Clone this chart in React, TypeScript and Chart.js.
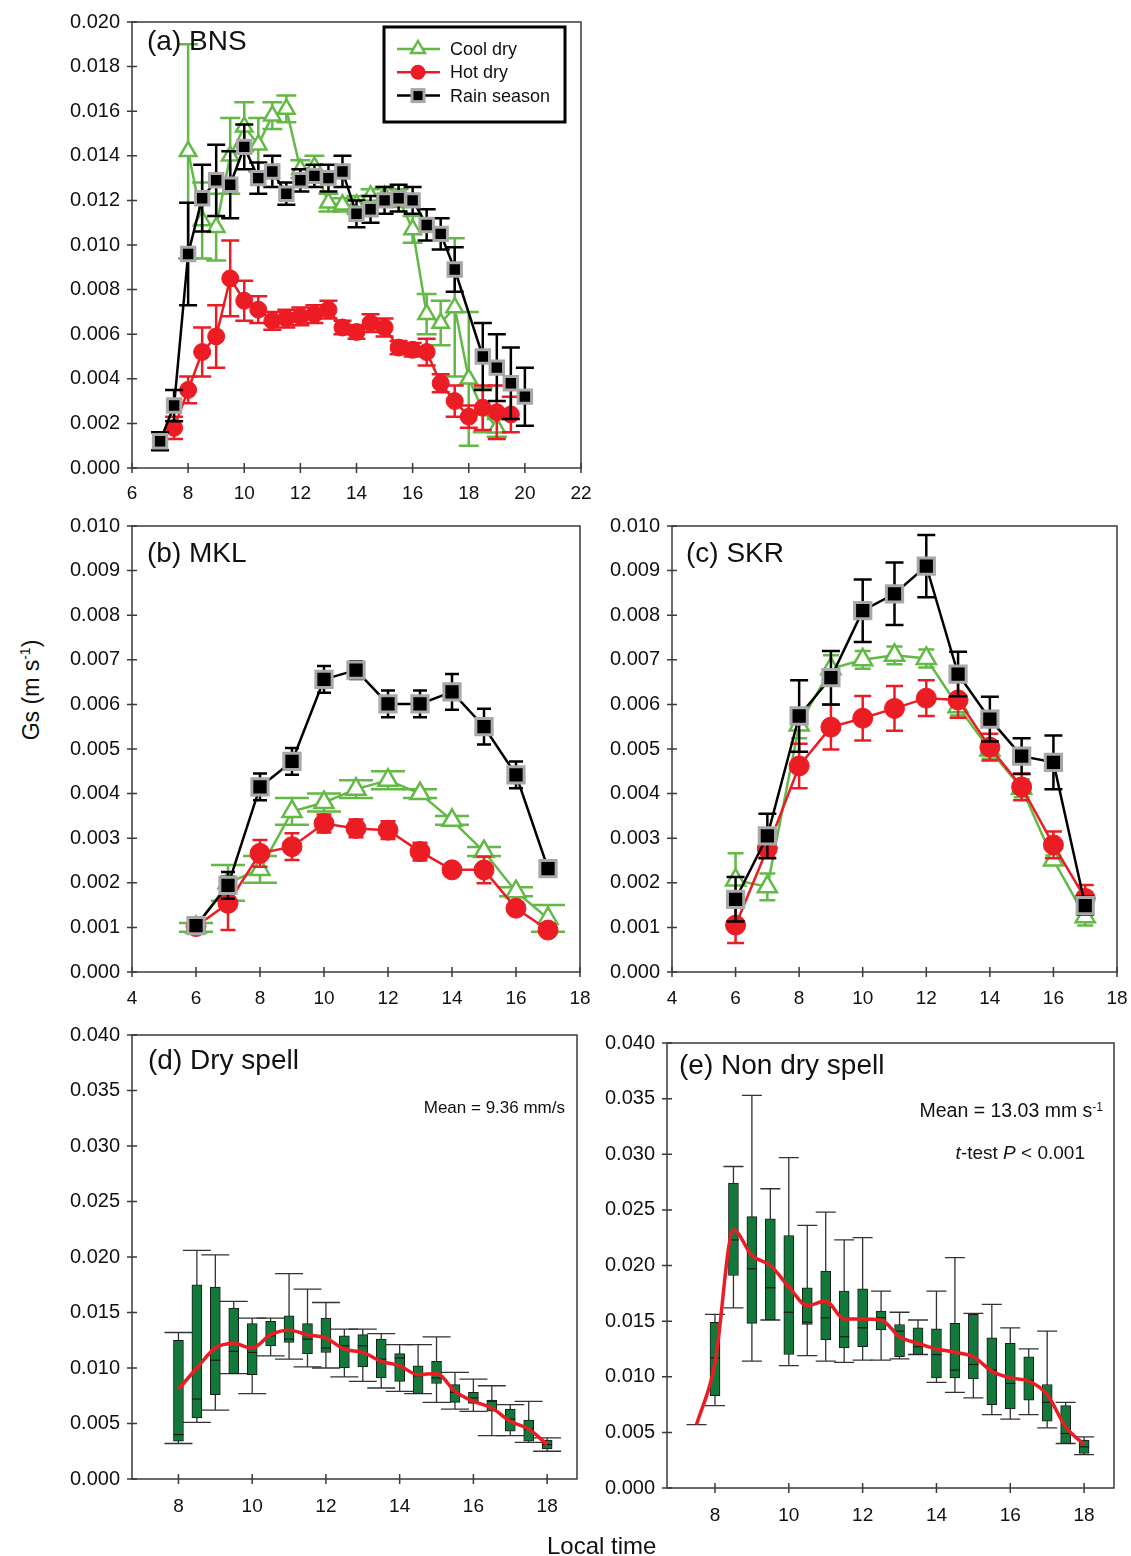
import React, { useEffect, useRef } from 'react';
import { Chart, registerables } from 'chart.js';

Chart.register(...registerables);

// ---------------- DATA ----------------
// Panel (a) BNS
const A_RAIN_X = [7, 7.5, 8, 8.5, 9, 9.5, 10, 10.5, 11, 11.5, 12, 12.5, 13, 13.5, 14, 14.5, 15, 15.5, 16, 16.5, 17, 17.5, 18.5, 19, 19.5, 20];
const A_RAIN_Y = [0.0012, 0.0028, 0.0096, 0.0121, 0.0129, 0.0127, 0.0144, 0.0130, 0.0133, 0.0123, 0.0129, 0.0131, 0.0130, 0.0133, 0.0114, 0.0116, 0.0120, 0.0121, 0.0120, 0.0109, 0.0105, 0.0089, 0.0050, 0.0045, 0.0038, 0.0032];
const A_RAIN_E = [0.0004, 0.0007, 0.0023, 0.0015, 0.0016, 0.0015, 0.0010, 0.0007, 0.0007, 0.0005, 0.0005, 0.0005, 0.0006, 0.0007, 0.0006, 0.0006, 0.0006, 0.0006, 0.0006, 0.0007, 0.0007, 0.0010, 0.0015, 0.0015, 0.0016, 0.0013];

const A_COOL_X = [8, 8.5, 9, 9.5, 10, 10.5, 11, 11.5, 12, 12.5, 13, 13.5, 14, 14.5, 15, 15.5, 16, 16.5, 17, 17.5, 18, 18.5, 19];
const A_COOL_Y = [0.0142, 0.0111, 0.0108, 0.0140, 0.0153, 0.0145, 0.0158, 0.0161, 0.0134, 0.0135, 0.0119, 0.0118, 0.0118, 0.0122, 0.0122, 0.0121, 0.0107, 0.0069, 0.0065, 0.0072, 0.0040, 0.0026, 0.0018];
const A_COOL_E = [0.0048, 0.0017, 0.0015, 0.0017, 0.0011, 0.0012, 0.0006, 0.0006, 0.0004, 0.0005, 0.0004, 0.0003, 0.0004, 0.0003, 0.0004, 0.0004, 0.0006, 0.0009, 0.0010, 0.0031, 0.0030, 0.0010, 0.0004];

const A_HOT_X = [7.5, 8, 8.5, 9, 9.5, 10, 10.5, 11, 11.5, 12, 12.5, 13, 13.5, 14, 14.5, 15, 15.5, 16, 16.5, 17, 17.5, 18, 18.5, 19, 19.5];
const A_HOT_Y = [0.0018, 0.0035, 0.0052, 0.0059, 0.0085, 0.0075, 0.0071, 0.0066, 0.0067, 0.0068, 0.0069, 0.0071, 0.0063, 0.0061, 0.0065, 0.0063, 0.0054, 0.0053, 0.0052, 0.0038, 0.0030, 0.0023, 0.0027, 0.0025, 0.0024];
const A_HOT_E = [0.0005, 0.0006, 0.0011, 0.0014, 0.0017, 0.0009, 0.0006, 0.0004, 0.0004, 0.0004, 0.0004, 0.0004, 0.0003, 0.0003, 0.0004, 0.0004, 0.0003, 0.0003, 0.0006, 0.0004, 0.0007, 0.0005, 0.0010, 0.0012, 0.0008];

// Panels (b) MKL and (c) SKR
const HOURS_BC = [6, 7, 8, 9, 10, 11, 12, 13, 14, 15, 16, 17];
const B_COOL_Y = [0.0010, 0.0020, 0.0023, 0.0036, 0.0038, 0.0041, 0.0043, 0.0040, 0.0034, 0.0027, 0.0018, 0.0012];
const B_COOL_E = [0.0001, 0.0004, 0.0003, 0.0003, 0.0002, 0.0002, 0.0002, 0.0001, 0.0001, 0.0001, 0.0001, 0.0003];
const B_HOT_Y = [0.00102, 0.00154, 0.00266, 0.00281, 0.00333, 0.00322, 0.00318, 0.0027, 0.00229, 0.00229, 0.00143, 0.00094];
const B_HOT_E = [0.0001, 0.0006, 0.0003, 0.0003, 0.0002, 0.0002, 0.0002, 0.0002, 0.0001, 0.0003, 0.0001, 0.0001];
const B_RAIN_Y = [0.00104, 0.00194, 0.00415, 0.00472, 0.00656, 0.00677, 0.00601, 0.00601, 0.00628, 0.0055, 0.00442, 0.00232];
const B_RAIN_E = [0.0001, 0.0003, 0.0003, 0.0003, 0.0003, 0.0002, 0.0003, 0.0003, 0.0004, 0.0004, 0.0003, 0];

const C_COOL_Y = [0.00206, 0.00191, 0.00554, 0.0068, 0.0070, 0.0071, 0.00703, 0.00595, 0.00498, 0.00412, 0.00251, 0.00124];
const C_COOL_E = [0.0006, 0.0003, 0.0003, 0.0003, 0.0002, 0.0002, 0.0002, 0.0002, 0.0002, 0.0002, 0.0001, 0.0002];
const C_HOT_Y = [0.00105, 0.00277, 0.00462, 0.00549, 0.00569, 0.00591, 0.00614, 0.0061, 0.00504, 0.00415, 0.00285, 0.00165];
const C_HOT_E = [0.0004, 0.0002, 0.0005, 0.0005, 0.0005, 0.0005, 0.0004, 0.0004, 0.0003, 0.0003, 0.0003, 0.0003];
const C_RAIN_Y = [0.00163, 0.00305, 0.00574, 0.0066, 0.0081, 0.00848, 0.0091, 0.00668, 0.00567, 0.00484, 0.0047, 0.00149];
const C_RAIN_E = [0.0005, 0.0005, 0.0008, 0.0006, 0.0007, 0.0007, 0.0007, 0.0005, 0.0005, 0.0004, 0.0006, 0.0002];

// Panel (d) Dry spell (box plots + mean line)
const D_X = [8, 8.5, 9, 9.5, 10, 10.5, 11, 11.5, 12, 12.5, 13, 13.5, 14, 14.5, 15, 15.5, 16, 16.5, 17, 17.5, 18];
const D_WHI = [0.0132, 0.0206, 0.0202, 0.0160, 0.0145, 0.0145, 0.0185, 0.0171, 0.0159, 0.0135, 0.0135, 0.0131, 0.0121, 0.0121, 0.0128, 0.0096, 0.0090, 0.0084, 0.0067, 0.0070, 0.0037];
const D_Q3 = [0.0125, 0.0175, 0.0173, 0.0154, 0.0140, 0.0142, 0.0147, 0.0140, 0.0145, 0.0129, 0.0130, 0.0126, 0.0113, 0.0102, 0.0106, 0.0085, 0.0078, 0.0071, 0.0063, 0.0053, 0.0035];
const D_MED = [0.0040, 0.0072, 0.0107, 0.0115, 0.0114, 0.0129, 0.0126, 0.0126, 0.0118, 0.0120, 0.0120, 0.0108, 0.0109, 0.0093, 0.0091, 0.0078, 0.0073, 0.0070, 0.0054, 0.0045, 0.0031];
const D_Q1 = [0.0034, 0.0055, 0.0076, 0.0095, 0.0094, 0.0120, 0.0123, 0.0113, 0.0114, 0.0100, 0.0101, 0.0091, 0.0088, 0.0077, 0.0086, 0.0069, 0.0068, 0.0061, 0.0043, 0.0034, 0.0027];
const D_WLO = [0.0032, 0.0051, 0.0062, 0.0095, 0.0077, 0.0111, 0.0108, 0.0101, 0.0100, 0.0092, 0.0088, 0.0082, 0.0079, 0.0077, 0.0069, 0.0063, 0.0061, 0.0039, 0.0039, 0.0033, 0.0025];
const D_MEAN = [0.0081, 0.0100, 0.0118, 0.0122, 0.0118, 0.0130, 0.0134, 0.0130, 0.0127, 0.0117, 0.0114, 0.0106, 0.0102, 0.0094, 0.0095, 0.0079, 0.0070, 0.0064, 0.0052, 0.0045, 0.0031];

// Panel (e) Non dry spell
const E_X = [7.5, 8, 8.5, 9, 9.5, 10, 10.5, 11, 11.5, 12, 12.5, 13, 13.5, 14, 14.5, 15, 15.5, 16, 16.5, 17, 17.5, 18];
const E_WHI = [0.0057, 0.0156, 0.0289, 0.0353, 0.0269, 0.0297, 0.0236, 0.0248, 0.0223, 0.0225, 0.0177, 0.0158, 0.0151, 0.0177, 0.0207, 0.0157, 0.0165, 0.0144, 0.0125, 0.0141, 0.0077, 0.0046];
const E_Q3 = [0.0057, 0.0149, 0.0274, 0.0244, 0.0242, 0.0227, 0.0180, 0.0195, 0.0177, 0.0179, 0.0159, 0.0147, 0.0144, 0.0143, 0.0148, 0.0156, 0.0135, 0.0130, 0.0118, 0.0093, 0.0074, 0.0043];
const E_MED = [0.0057, 0.0117, 0.0223, 0.0197, 0.0180, 0.0158, 0.0149, 0.0153, 0.0136, 0.0144, 0.0153, 0.0141, 0.0127, 0.0120, 0.0106, 0.0111, 0.0106, 0.0094, 0.0097, 0.0077, 0.0049, 0.0037];
const E_Q1 = [0.0057, 0.0083, 0.0191, 0.0148, 0.0151, 0.0120, 0.0147, 0.0133, 0.0126, 0.0127, 0.0142, 0.0118, 0.0120, 0.0099, 0.0099, 0.0098, 0.0075, 0.0071, 0.0079, 0.0060, 0.0040, 0.0031];
const E_WLO = [0.0057, 0.0074, 0.0162, 0.0114, 0.0151, 0.0110, 0.0119, 0.0114, 0.0113, 0.0115, 0.0115, 0.0116, 0.0120, 0.0095, 0.0086, 0.0081, 0.0066, 0.0062, 0.0066, 0.0054, 0.0040, 0.0030];
const E_MEAN = [0.0057, 0.0112, 0.0232, 0.0209, 0.0200, 0.0181, 0.0164, 0.0168, 0.0152, 0.0152, 0.0151, 0.0136, 0.0130, 0.0125, 0.0122, 0.0118, 0.0105, 0.0099, 0.0096, 0.0084, 0.0055, 0.0039];

// Tick labels
const X_TICKS_A = [6, 8, 10, 12, 14, 16, 18, 20, 22];
const X_TICKS_BC = [4, 6, 8, 10, 12, 14, 16, 18];
const X_TICKS_DE = [8, 10, 12, 14, 16, 18];
const Y_TICKS_A = [0, 0.002, 0.004, 0.006, 0.008, 0.010, 0.012, 0.014, 0.016, 0.018, 0.020];
const Y_TICKS_BC = [0, 0.001, 0.002, 0.003, 0.004, 0.005, 0.006, 0.007, 0.008, 0.009, 0.010];
const Y_TICKS_DE = [0, 0.005, 0.010, 0.015, 0.020, 0.025, 0.030, 0.035, 0.040];

const LEGEND_LABELS = ['Cool dry', 'Hot dry', 'Rain season'];

// ---------------- STYLE / LAYOUT ----------------
const FONT = "'Liberation Sans', Arial, sans-serif";
const GREEN = '#63b946';
const RED = '#ec1c24';
const BOXGREEN = '#13793b';
const SQUARE_EDGE = '#a8a8a8';
const PT = 32, PR = 40, XH = 50, YW = 82;

type Area = { l: number; t: number; r: number; b: number };
const AREA_A: Area = { l: 132, t: 22, r: 581, b: 468 };
const AREA_B: Area = { l: 132, t: 526, r: 580, b: 972 };
const AREA_C: Area = { l: 672, t: 526, r: 1117, b: 972 };
const AREA_D: Area = { l: 132, t: 1035, r: 577, b: 1479 };
const AREA_E: Area = { l: 667, t: 1043, r: 1114, b: 1488 };

// ---------------- PLUGINS ----------------
const framePlugin = {
  id: 'frame',
  afterDatasetsDraw(chart: any) {
    const { ctx, chartArea: ca, scales } = chart;
    ctx.save();
    ctx.strokeStyle = '#3a3a3a';
    ctx.lineWidth = 1.5;
    ctx.strokeRect(ca.left, ca.top, ca.right - ca.left, ca.bottom - ca.top);
    ctx.beginPath();
    scales.y.ticks.forEach((t: any) => {
      const py = scales.y.getPixelForValue(t.value);
      ctx.moveTo(ca.left - 5, py);
      ctx.lineTo(ca.left + 5, py);
    });
    scales.x.ticks.forEach((t: any) => {
      const px = scales.x.getPixelForValue(t.value);
      ctx.moveTo(px, ca.bottom - 5);
      ctx.lineTo(px, ca.bottom + 5);
    });
    ctx.stroke();
    ctx.restore();
  },
};

const errorBarPlugin = {
  id: 'errbars',
  beforeDatasetDraw(chart: any, args: any) {
    const ds: any = chart.data.datasets[args.index];
    if (!ds.errors) return;
    const { ctx, scales } = chart;
    ctx.save();
    ctx.strokeStyle = ds.borderColor;
    ctx.lineWidth = 2.5;
    const h = ds.capWidth / 2;
    ds.data.forEach((p: any, i: number) => {
      const e = ds.errors[i];
      if (!e) return;
      const x = scales.x.getPixelForValue(p.x);
      const y1 = scales.y.getPixelForValue(p.y + e);
      const y2 = scales.y.getPixelForValue(Math.max(0, p.y - e));
      ctx.beginPath();
      ctx.moveTo(x, y1); ctx.lineTo(x, y2);
      ctx.moveTo(x - h, y1); ctx.lineTo(x + h, y1);
      ctx.moveTo(x - h, y2); ctx.lineTo(x + h, y2);
      ctx.stroke();
    });
    ctx.restore();
  },
};

const boxPlugin = {
  id: 'boxes',
  beforeDatasetDraw(chart: any, args: any) {
    const ds: any = chart.data.datasets[args.index];
    if (!ds.box) return;
    const b = ds.box;
    const { ctx, scales } = chart;
    ctx.save();
    ctx.strokeStyle = '#333';
    ctx.lineWidth = 1.3;
    b.xs.forEach((xv: number, i: number) => {
      const x = scales.x.getPixelForValue(xv);
      const yHi = scales.y.getPixelForValue(b.hi[i]);
      const yLo = scales.y.getPixelForValue(b.lo[i]);
      const h = b.cap / 2;
      ctx.beginPath();
      ctx.moveTo(x, yHi); ctx.lineTo(x, yLo);
      ctx.moveTo(x - h, yHi); ctx.lineTo(x + h, yHi);
      ctx.moveTo(x - h, yLo); ctx.lineTo(x + h, yLo);
      ctx.stroke();
    });
    ctx.restore();
  },
  afterDatasetDraw(chart: any, args: any) {
    const ds: any = chart.data.datasets[args.index];
    if (!ds.box) return;
    const b = ds.box;
    const { ctx, scales } = chart;
    ctx.save();
    ctx.strokeStyle = '#1a1a1a';
    ctx.lineWidth = 1.2;
    b.xs.forEach((xv: number, i: number) => {
      if (b.q1[i] === b.q3[i]) return;
      const x = scales.x.getPixelForValue(xv);
      const y = scales.y.getPixelForValue(b.med[i]);
      ctx.beginPath();
      ctx.moveTo(x - b.width / 2, y); ctx.lineTo(x + b.width / 2, y);
      ctx.stroke();
    });
    ctx.restore();
  },
};

const legendPlugin = {
  id: 'boxLegend',
  afterDraw(chart: any) {
    const { ctx, chartArea: ca } = chart;
    const x0 = ca.left + 252, y0 = ca.top + 5, w = 181, h = 95;
    ctx.save();
    ctx.fillStyle = '#fff';
    ctx.fillRect(x0, y0, w, h);
    ctx.lineWidth = 3;
    ctx.strokeStyle = '#000';
    ctx.strokeRect(x0, y0, w, h);
    const colors = [GREEN, RED, '#000'];
    LEGEND_LABELS.forEach((label, i) => {
      const cy = y0 + 22 + i * 23.3;
      const mx = x0 + 34;
      ctx.strokeStyle = colors[i];
      ctx.lineWidth = 2.5;
      ctx.beginPath();
      ctx.moveTo(x0 + 13, cy); ctx.lineTo(x0 + 56, cy);
      ctx.stroke();
      if (i === 0) {
        const r = 8;
        ctx.beginPath();
        ctx.moveTo(mx, cy - r);
        ctx.lineTo(mx + r * 0.866, cy + r * 0.5);
        ctx.lineTo(mx - r * 0.866, cy + r * 0.5);
        ctx.closePath();
        ctx.fillStyle = '#fff';
        ctx.fill();
        ctx.stroke();
      } else if (i === 1) {
        ctx.beginPath();
        ctx.arc(mx, cy, 7.5, 0, Math.PI * 2);
        ctx.fillStyle = RED;
        ctx.fill();
      } else {
        ctx.fillStyle = '#000';
        ctx.fillRect(mx - 6, cy - 6, 12, 12);
        ctx.lineWidth = 3;
        ctx.strokeStyle = SQUARE_EDGE;
        ctx.strokeRect(mx - 6, cy - 6, 12, 12);
      }
      ctx.fillStyle = '#111';
      ctx.font = `18px ${FONT}`;
      ctx.textBaseline = 'middle';
      ctx.textAlign = 'left';
      ctx.fillText(label, x0 + 66, cy + 1);
    });
    ctx.restore();
  },
};

// ---------------- HELPERS ----------------
function axes(xmin: number, xmax: number, xticks: number[], ymax: number, yticks: number[], xpad: number) {
  return {
    x: {
      type: 'linear', min: xmin, max: xmax, offset: false,
      grid: { display: false, drawTicks: false },
      border: { display: false },
      afterBuildTicks: (s: any) => { s.ticks = xticks.map((v) => ({ value: v })); },
      afterFit: (s: any) => { s.height = XH; },
      ticks: { font: { family: FONT, size: 19 }, color: '#111', padding: xpad, maxRotation: 0, autoSkip: false, callback: (v: any) => String(v) },
    },
    y: {
      type: 'linear', min: 0, max: ymax,
      grid: { display: false, drawTicks: false },
      border: { display: false },
      afterBuildTicks: (s: any) => { s.ticks = yticks.map((v) => ({ value: v })); },
      afterFit: (s: any) => { s.width = YW; },
      ticks: { font: { family: FONT, size: 20 }, color: '#111', padding: 12, autoSkip: false, callback: (v: any) => Number(v).toFixed(3) },
    },
  };
}

function series(kind: 'cool' | 'hot' | 'rain', label: string, xs: number[], ys: number[], es: number[], big: boolean, cap: number) {
  const base: any = {
    type: 'line', label,
    data: xs.map((x, i) => ({ x, y: ys[i] })),
    errors: es, capWidth: cap, borderWidth: 2.5, clip: false, tension: 0,
  };
  if (kind === 'cool') {
    return { ...base, borderColor: GREEN, pointStyle: 'triangle', pointRadius: big ? 11 : 9.5, pointBackgroundColor: '#fff', pointBorderColor: GREEN, pointBorderWidth: 2.5, order: 2 };
  }
  if (kind === 'hot') {
    return { ...base, borderColor: RED, pointStyle: 'circle', pointRadius: big ? 10 : 8.5, pointBackgroundColor: RED, pointBorderColor: RED, pointBorderWidth: 1, order: 1 };
  }
  return { ...base, borderColor: '#000', pointStyle: 'rect', pointRadius: big ? 11.5 : 9.5, pointBackgroundColor: '#000', pointBorderColor: SQUARE_EDGE, pointBorderWidth: 3, order: 0 };
}

function baseOptions(scales: any) {
  return {
    responsive: false,
    animation: false,
    devicePixelRatio: 1,
    events: [],
    layout: { padding: { top: PT, right: PR, left: 0, bottom: 0 } },
    plugins: { legend: { display: false }, tooltip: { enabled: false } },
    scales,
  };
}

function boxPanel(xs: number[], hi: number[], q3: number[], med: number[], q1: number[], lo: number[], mean: number[], cap: number, xmin: number, xmax: number) {
  const width = 10;
  const boxData = xs.map((x, i) => ({ x, y: [q1[i], q3[i]] })).filter((d) => d.y[0] !== d.y[1]);
  return {
    type: 'bar',
    data: {
      datasets: [
        {
          type: 'line', label: 'Mean', data: xs.map((x, i) => ({ x, y: mean[i] })),
          borderColor: RED, borderWidth: 3.5, pointRadius: 0, cubicInterpolationMode: 'monotone', order: 0, clip: false,
        },
        {
          type: 'bar', label: 'Gs', data: boxData,
          backgroundColor: BOXGREEN, borderColor: '#1a1a1a', borderWidth: 1, borderSkipped: false,
          barThickness: width, order: 1,
          box: { xs, hi, q3, med, q1, lo, cap, width },
        },
      ],
    },
    options: baseOptions(axes(xmin, xmax, X_TICKS_DE, 0.04, Y_TICKS_DE, 16)),
    plugins: [boxPlugin, framePlugin],
  };
}

function ChartBox({ area, build }: { area: Area; build: () => any }) {
  const ref = useRef<HTMLCanvasElement>(null);
  const W = YW + (area.r - area.l) + PR;
  const H = PT + (area.b - area.t) + XH;
  useEffect(() => {
    const chart = new Chart(ref.current as HTMLCanvasElement, build());
    return () => chart.destroy();
  }, []);
  return (
    <canvas
      ref={ref}
      width={W}
      height={H}
      style={{ position: 'absolute', left: area.l - YW, top: area.t - PT, width: W, height: H }}
    />
  );
}

function Txt({ x, y, size, children, align = 'left' }: any) {
  const style: any = {
    position: 'absolute', top: y - 0.49 * size, fontSize: size, lineHeight: `${size}px`,
    fontFamily: FONT, color: '#111', whiteSpace: 'nowrap',
  };
  if (align === 'right') style.right = 1131 - x; else style.left = x;
  return <div style={style}>{children}</div>;
}

// ---------------- BUILDERS ----------------
const buildA = () => ({
  type: 'line',
  data: {
    datasets: [
      series('cool', 'Cool dry', A_COOL_X, A_COOL_Y, A_COOL_E, false, 20),
      series('hot', 'Hot dry', A_HOT_X, A_HOT_Y, A_HOT_E, false, 18),
      series('rain', 'Rain season', A_RAIN_X, A_RAIN_Y, A_RAIN_E, false, 18),
    ],
  },
  options: baseOptions(axes(6, 22, X_TICKS_A, 0.02, Y_TICKS_A, 14)),
  plugins: [errorBarPlugin, framePlugin, legendPlugin],
});

const buildB = () => ({
  type: 'line',
  data: {
    datasets: [
      series('cool', 'Cool dry', HOURS_BC, B_COOL_Y, B_COOL_E, true, 34),
      series('hot', 'Hot dry', HOURS_BC, B_HOT_Y, B_HOT_E, true, 15),
      series('rain', 'Rain season', HOURS_BC, B_RAIN_Y, B_RAIN_E, true, 14),
    ],
  },
  options: baseOptions(axes(4, 18, X_TICKS_BC, 0.01, Y_TICKS_BC, 15)),
  plugins: [errorBarPlugin, framePlugin],
});

const buildC = () => ({
  type: 'line',
  data: {
    datasets: [
      series('cool', 'Cool dry', HOURS_BC, C_COOL_Y, C_COOL_E, true, 16),
      series('hot', 'Hot dry', HOURS_BC, C_HOT_Y, C_HOT_E, true, 17),
      series('rain', 'Rain season', HOURS_BC, C_RAIN_Y, C_RAIN_E, true, 18),
    ],
  },
  options: baseOptions(axes(4, 18, X_TICKS_BC, 0.01, Y_TICKS_BC, 15)),
  plugins: [errorBarPlugin, framePlugin],
});

const buildD = () => boxPanel(D_X, D_WHI, D_Q3, D_MED, D_Q1, D_WLO, D_MEAN, 28, 6.74, 18.81);
const buildE = () => boxPanel(E_X, E_WHI, E_Q3, E_MED, E_Q1, E_WLO, E_MEAN, 20, 6.70, 18.81);

export default function App() {
  return (
    <div style={{ position: 'absolute', left: 0, top: 0, width: 1131, height: 1556, background: '#fff', overflow: 'hidden' }}>
      <ChartBox area={AREA_A} build={buildA} />
      <ChartBox area={AREA_B} build={buildB} />
      <ChartBox area={AREA_C} build={buildC} />
      <ChartBox area={AREA_D} build={buildD} />
      <ChartBox area={AREA_E} build={buildE} />

      <Txt x={147} y={41} size={28}>(a) BNS</Txt>
      <Txt x={147} y={553} size={28}>(b) MKL</Txt>
      <Txt x={686} y={553} size={28}>(c) SKR</Txt>
      <Txt x={148} y={1060} size={28}>(d) Dry spell</Txt>
      <Txt x={679} y={1065} size={28}>(e) Non dry spell</Txt>

      <Txt x={565} y={1107} size={17} align="right">Mean = 9.36 mm/s</Txt>
      <Txt x={1103} y={1111} size={19.5} align="right">
        Mean = 13.03 mm s<sup style={{ fontSize: 12, verticalAlign: 'top', lineHeight: '12px' }}>-1</sup>
      </Txt>
      <Txt x={1085} y={1152} size={19} align="right">
        <i>t</i>-test <i>P</i> &lt; 0.001
      </Txt>

      <div
        style={{
          position: 'absolute', left: 31, top: 690, transform: 'translate(-50%, -50%) rotate(-90deg)',
          fontFamily: FONT, fontSize: 23, color: '#111', whiteSpace: 'nowrap', lineHeight: '26px',
        }}
      >
        Gs (m s<sup style={{ fontSize: 14, verticalAlign: 'top', lineHeight: '14px' }}>-1</sup>)
      </div>
      <Txt x={602} y={1546} size={24}>
        <span style={{ position: 'relative', left: -55 }}>Local time</span>
      </Txt>
    </div>
  );
}
